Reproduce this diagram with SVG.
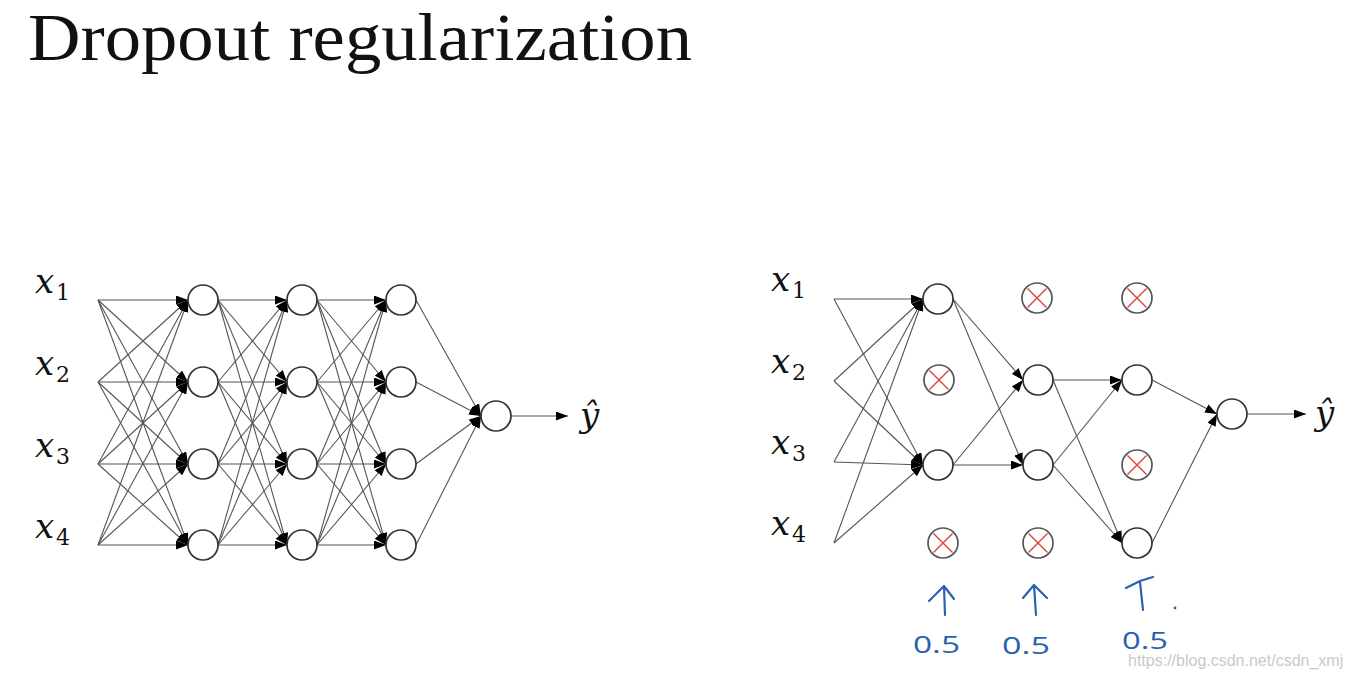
<svg xmlns="http://www.w3.org/2000/svg" width="1350" height="681" viewBox="0 0 1350 681">
<style>
.bg{fill:#ffffff}
.title{font-family:"Liberation Serif","DejaVu Serif",serif;font-size:68px;fill:#111}
.var{font-family:"DejaVu Serif","Liberation Serif",serif;font-style:italic;font-size:34px;fill:#111}
.sub{font-family:"DejaVu Serif","Liberation Serif",serif;font-size:22px;fill:#111}
.node{fill:#ffffff;stroke:#333;stroke-width:1.7}
.drop{fill:#ffffff;stroke:#555;stroke-width:1.7}
.x{stroke:#e0453a;stroke-width:1.4}
.e{stroke:#555;stroke-width:1.1;fill:none;marker-end:url(#ah)}
.hand{stroke:#2a62b0;stroke-width:2.2;fill:none;stroke-linecap:round;stroke-linejoin:round}
.handt{font-family:"Open Sans","Liberation Sans",sans-serif;font-size:24px;fill:#2a62b0}
.wm{font-family:"Liberation Sans",Arial,sans-serif;font-size:16px;fill:#c9c9c9}
</style>
<defs>
<marker id="ah" viewBox="0 0 12 9" refX="12" refY="4.5" markerWidth="12" markerHeight="9" markerUnits="userSpaceOnUse" orient="auto">
<path d="M0,0 L12,4.5 L0,9 z" fill="#000"/>
</marker>
<g id="dx"><circle class="drop" r="15"/><line class="x" x1="-9.5" y1="-9.5" x2="9.5" y2="9.5"/><line class="x" x1="-9.5" y1="9.5" x2="9.5" y2="-9.5"/></g>
</defs>
<rect class="bg" width="1350" height="681"/>
<text class="title" x="28" y="60" textLength="664" lengthAdjust="spacingAndGlyphs">Dropout regularization</text>

<g id="connectors">
<path class="e" d="M98,300 L188,300"/><path class="e" d="M98,300 L188,382"/><path class="e" d="M98,300 L188,464"/><path class="e" d="M98,300 L188,545"/>
<path class="e" d="M98,382 L188,300"/><path class="e" d="M98,382 L188,382"/><path class="e" d="M98,382 L188,464"/><path class="e" d="M98,382 L188,545"/>
<path class="e" d="M98,464 L188,300"/><path class="e" d="M98,464 L188,382"/><path class="e" d="M98,464 L188,464"/><path class="e" d="M98,464 L188,545"/>
<path class="e" d="M98,545 L188,300"/><path class="e" d="M98,545 L188,382"/><path class="e" d="M98,545 L188,464"/><path class="e" d="M98,545 L188,545"/>
<path class="e" d="M218,300 L287,300"/><path class="e" d="M218,300 L287,382"/><path class="e" d="M218,300 L287,464"/><path class="e" d="M218,300 L287,545"/>
<path class="e" d="M218,382 L287,300"/><path class="e" d="M218,382 L287,382"/><path class="e" d="M218,382 L287,464"/><path class="e" d="M218,382 L287,545"/>
<path class="e" d="M218,464 L287,300"/><path class="e" d="M218,464 L287,382"/><path class="e" d="M218,464 L287,464"/><path class="e" d="M218,464 L287,545"/>
<path class="e" d="M218,545 L287,300"/><path class="e" d="M218,545 L287,382"/><path class="e" d="M218,545 L287,464"/><path class="e" d="M218,545 L287,545"/>
<path class="e" d="M317,300 L386,300"/><path class="e" d="M317,300 L386,382"/><path class="e" d="M317,300 L386,464"/><path class="e" d="M317,300 L386,545"/>
<path class="e" d="M317,382 L386,300"/><path class="e" d="M317,382 L386,382"/><path class="e" d="M317,382 L386,464"/><path class="e" d="M317,382 L386,545"/>
<path class="e" d="M317,464 L386,300"/><path class="e" d="M317,464 L386,382"/><path class="e" d="M317,464 L386,464"/><path class="e" d="M317,464 L386,545"/>
<path class="e" d="M317,545 L386,300"/><path class="e" d="M317,545 L386,382"/><path class="e" d="M317,545 L386,464"/><path class="e" d="M317,545 L386,545"/>
<path class="e" d="M416,300 L481,416"/><path class="e" d="M416,382 L481,416"/><path class="e" d="M416,464 L481,416"/><path class="e" d="M416,545 L481,416"/>
<path class="e" d="M511,416 L568,416"/>

<path class="e" d="M834,299 L923,299"/><path class="e" d="M834,299 L923,465"/>
<path class="e" d="M834,381 L923,299"/><path class="e" d="M834,381 L923,465"/>
<path class="e" d="M834,462 L923,299"/><path class="e" d="M834,462 L923,465"/>
<path class="e" d="M834,543 L923,299"/><path class="e" d="M834,543 L923,465"/>
<path class="e" d="M953,299 L1023,380"/><path class="e" d="M953,299 L1023,465"/>
<path class="e" d="M953,465 L1023,380"/><path class="e" d="M953,465 L1023,465"/>
<path class="e" d="M1053,380 L1122,380"/><path class="e" d="M1053,380 L1122,543"/>
<path class="e" d="M1053,465 L1122,380"/><path class="e" d="M1053,465 L1122,543"/>
<path class="e" d="M1152,380 L1217,414"/><path class="e" d="M1152,543 L1217,414"/>
<path class="e" d="M1247,414 L1306,414"/>
</g>

<g id="left-inputs">
<g id="lx1"><text class="var" x="35" y="293">x</text><text class="sub" x="56" y="300">1</text></g>
<g id="lx2"><text class="var" x="35" y="375">x</text><text class="sub" x="56" y="382">2</text></g>
<g id="lx3"><text class="var" x="35" y="457">x</text><text class="sub" x="56" y="464">3</text></g>
<g id="lx4"><text class="var" x="35" y="538">x</text><text class="sub" x="56" y="545">4</text></g>
</g>
<g id="left-l1"><circle class="node" cx="203" cy="300" r="15"/><circle class="node" cx="203" cy="382" r="15"/><circle class="node" cx="203" cy="464" r="15"/><circle class="node" cx="203" cy="545" r="15"/></g>
<g id="left-l2"><circle class="node" cx="302" cy="300" r="15"/><circle class="node" cx="302" cy="382" r="15"/><circle class="node" cx="302" cy="464" r="15"/><circle class="node" cx="302" cy="545" r="15"/></g>
<g id="left-l3"><circle class="node" cx="401" cy="300" r="15"/><circle class="node" cx="401" cy="382" r="15"/><circle class="node" cx="401" cy="464" r="15"/><circle class="node" cx="401" cy="545" r="15"/></g>
<g id="left-out"><circle class="node" cx="496" cy="416" r="15"/></g>
<g id="left-yhat"><text class="var" x="580" y="427" font-size="32">ŷ</text></g>

<g id="right-inputs">
<g id="rx1"><text class="var" x="771" y="291">x</text><text class="sub" x="792" y="298">1</text></g>
<g id="rx2"><text class="var" x="771" y="373">x</text><text class="sub" x="792" y="380">2</text></g>
<g id="rx3"><text class="var" x="771" y="454">x</text><text class="sub" x="792" y="461">3</text></g>
<g id="rx4"><text class="var" x="771" y="535">x</text><text class="sub" x="792" y="542">4</text></g>
</g>
<g id="right-l1">
<circle class="node" cx="938" cy="299" r="15"/>
<use href="#dx" x="939" y="380"/>
<circle class="node" cx="938" cy="465" r="15"/>
<use href="#dx" x="943" y="543"/>
</g>
<g id="right-l2">
<use href="#dx" x="1037" y="298"/>
<circle class="node" cx="1038" cy="380" r="15"/>
<circle class="node" cx="1038" cy="465" r="15"/>
<use href="#dx" x="1038" y="543"/>
</g>
<g id="right-l3">
<use href="#dx" x="1137" y="298"/>
<circle class="node" cx="1137" cy="380" r="15"/>
<use href="#dx" x="1137" y="465"/>
<circle class="node" cx="1137" cy="543" r="15"/>
</g>
<g id="right-out"><circle class="node" cx="1232" cy="414" r="15"/></g>
<g id="right-yhat"><text class="var" x="1315" y="425" font-size="32">ŷ</text></g>

<g id="keep-prob-1">
<path class="hand" d="M945,615 L944,586 M929,601 L944,586 L954,599"/>
<text class="handt" x="913" y="653" textLength="47" lengthAdjust="spacingAndGlyphs">0.5</text>
</g>
<g id="keep-prob-2">
<path class="hand" d="M1036,615 L1034,585 M1023,598 L1034,585 L1047,598"/>
<text class="handt" x="1002" y="654" textLength="48" lengthAdjust="spacingAndGlyphs">0.5</text>
</g>
<g id="keep-prob-3">
<path class="hand" d="M1143,610 L1140,582 M1126,588 L1140,581 L1153,577"/>
<circle cx="1175" cy="608" r="1.4" fill="#2a62b0"/>
<text class="handt" x="1122" y="649" textLength="46" lengthAdjust="spacingAndGlyphs">0.5</text>
</g>
<text class="wm" x="1128" y="666">https://blog.csdn.net/csdn_xmj</text>
</svg>
